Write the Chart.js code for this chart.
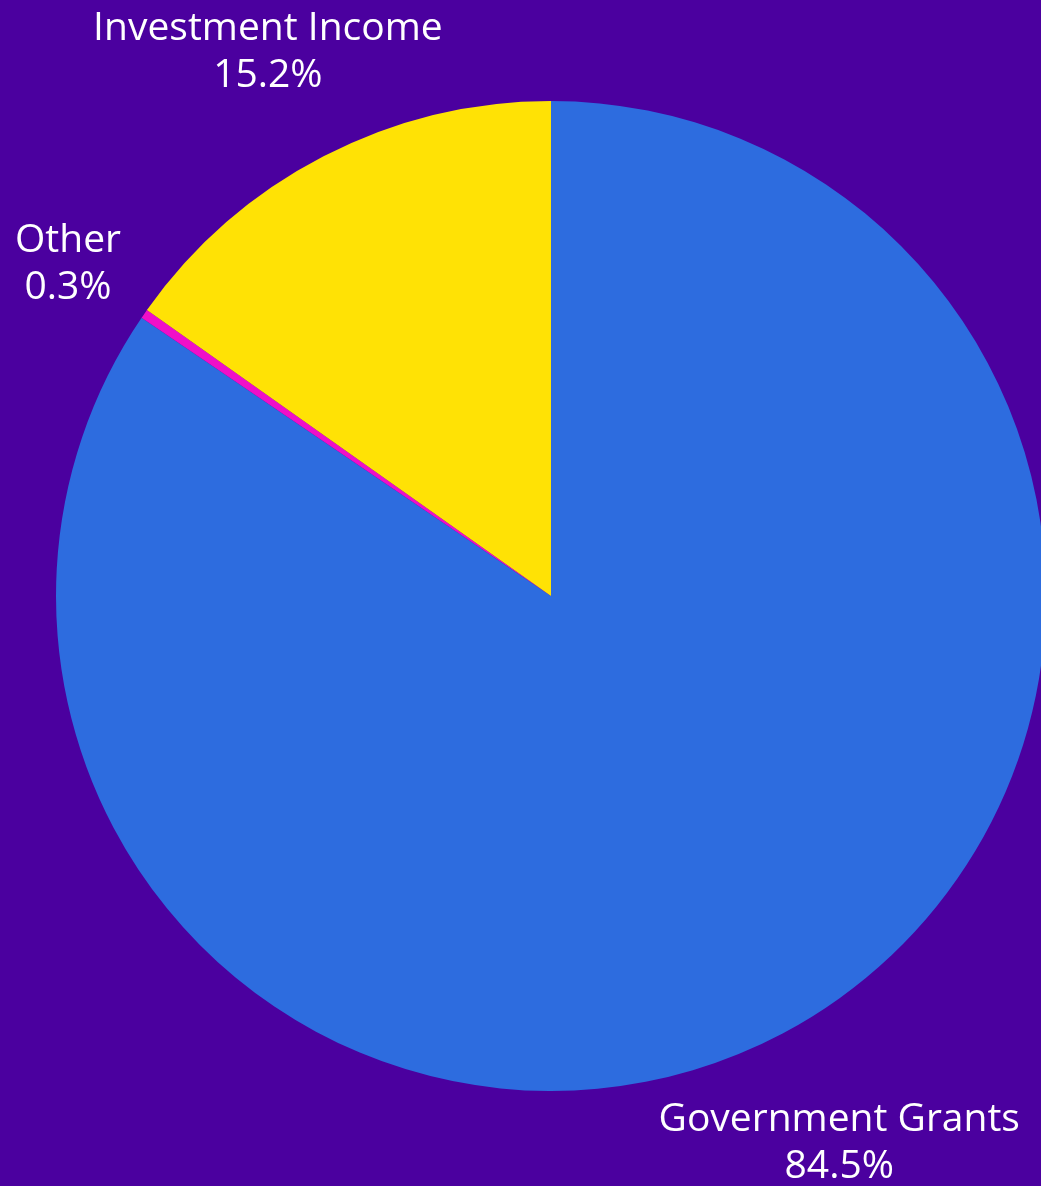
<!DOCTYPE html>
<html>
<head>
<meta charset="utf-8">
<script src="https://cdn.jsdelivr.net/npm/chart.js@4"></script>
<style>
  html, body { margin: 0; padding: 0; background: #4B009F; overflow: hidden; width: 1041px; height: 1186px; }
  #wrap { position: absolute; left: 0; top: 0; width: 1102px; height: 1192px; }
</style>
</head>
<body>
<div id="wrap"><canvas id="c" width="1102" height="1192"></canvas></div>
<script>
const categories = ["Government Grants", "Other", "Investment Income"];
const values = [84.5, 0.3, 15.2];
const valueLabels = ["84.5%", "0.3%", "15.2%"];
const colors = ["#2D6CDF", "#F00FC8", "#FFE205"];

const FONT = "400 39px 'Open Sans'";
const LINE_H = 47;
const CAP_HALF = 14.5;

const labelPlugin = {
  id: 'outerLabels',
  afterDraw(chart) {
    const ctx = chart.ctx;
    const meta = chart.getDatasetMeta(0);
    ctx.save();
    ctx.font = FONT;
    ctx.fillStyle = "#ffffff";
    ctx.textAlign = "center";
    ctx.textBaseline = "alphabetic";
    const W = 1041, margin = 15;
    meta.data.forEach((arc, i) => {
      const p = arc.getProps(['x', 'y', 'startAngle', 'endAngle', 'outerRadius'], true);
      const mid = (p.startAngle + p.endAngle) / 2;
      const dx = Math.cos(mid), dy = Math.sin(mid);
      const lines = [categories[i], valueLabels[i]];
      const w = Math.max(...lines.map(l => ctx.measureText(l).width));
      const hw = w / 2;
      let D = p.outerRadius + 121;
      let cx = p.x + dx * D;
      if (cx - hw < margin && dx < 0) { D = (p.x - margin - hw) / (-dx); }
      if (cx + hw > W - margin && dx > 0) { D = (W - margin - hw - p.x) / dx; }
      cx = p.x + dx * D;
      const cy = p.y + dy * D;
      lines.forEach((l, k) => {
        ctx.fillText(l, cx, cy + (k - (lines.length - 1) / 2) * LINE_H + CAP_HALF);
      });
    });
    ctx.restore();
  }
};

new Chart(document.getElementById('c'), {
  type: 'pie',
  data: {
    labels: categories,
    datasets: [{
      data: values,
      backgroundColor: colors,
      borderWidth: 0
    }]
  },
  options: {
    responsive: false,
    animation: false,
    layout: { padding: 56 },
    plugins: { legend: { display: false }, tooltip: { enabled: false } }
  },
  plugins: [labelPlugin]
});
</script>
</body>
</html>
